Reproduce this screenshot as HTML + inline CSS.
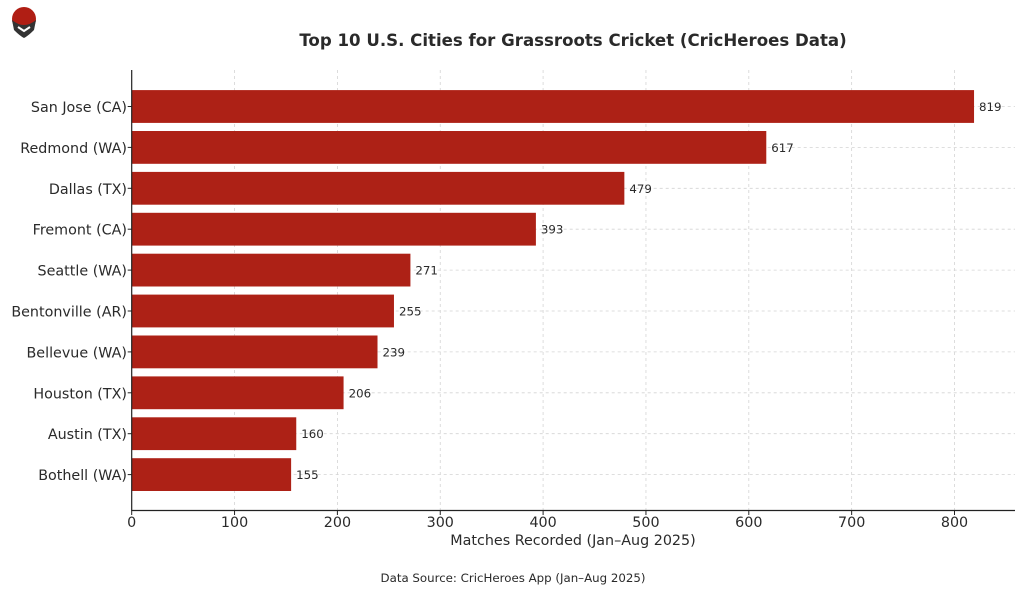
<!DOCTYPE html>
<html><head><meta charset="utf-8"><style>
body{margin:0;background:#fff;width:1024px;height:594px;overflow:hidden}
svg text{font-family:"DejaVu Sans","Liberation Sans",sans-serif;fill:#2a2a2a}
</style></head><body>
<svg width="1024" height="594" xmlns="http://www.w3.org/2000/svg">
<g>
<circle cx="24" cy="19" r="12" fill="#b01e14"/>
<path d="M12 20 Q24 30 36 20 L34 30 Q28 36 24 38 Q20 36 14 30 Z" fill="#333"/>
<path d="M18 27 L24 31 L30 27" stroke="#fff" stroke-width="2" fill="none"/>
</g>
<text x="573" y="46" text-anchor="middle" font-size="16.6" font-weight="bold">Top 10 U.S. Cities for Grassroots Cricket (CricHeroes Data)</text>
<g id="grid" stroke="#d4d4d4" stroke-dasharray="3,3" stroke-width="0.8">
</g>
<script>
var s=1.0285,x0=131.7,g=document.getElementById('grid'),ns='http://www.w3.org/2000/svg';
var data=[["San Jose (CA)",819],["Redmond (WA)",617],["Dallas (TX)",479],["Fremont (CA)",393],["Seattle (WA)",271],["Bentonville (AR)",255],["Bellevue (WA)",239],["Houston (TX)",206],["Austin (TX)",160],["Bothell (WA)",155]];
var svg=document.querySelector('svg');
function el(t,a,p){var e=document.createElementNS(ns,t);for(var k in a)e.setAttribute(k,a[k]);(p||svg).appendChild(e);return e}
for(var v=100;v<=800;v+=100){var x=x0+v*s;el('line',{x1:x,x2:x,y1:70,y2:510},g);}
data.forEach(function(d,i){var cy=106.5+i*40.9;el('line',{x1:x0,x2:1015,y1:cy,y2:cy},g);});
data.forEach(function(d,i){var cy=106.5+i*40.9;
el('rect',{x:x0,y:cy-16.4,width:d[1]*s,height:32.8,fill:'#ad2116'});
var t=el('text',{x:x0+d[1]*s+5,y:cy+4.5,'font-size':'11.8'});t.textContent=d[1];
var l=el('text',{x:127,y:cy+5.5,'font-size':'14.3','text-anchor':'end'});l.textContent=d[0];
el('line',{x1:x0-4,x2:x0,y1:cy,y2:cy,stroke:'#222'});
});
for(var v=0;v<=800;v+=100){var x=x0+v*s;el('line',{x1:x,x2:x,y1:510.5,y2:515,stroke:'#222'});var t=el('text',{x:x,y:527,'font-size':'14.3','text-anchor':'middle'});t.textContent=v;}
el('line',{x1:x0,x2:x0,y1:70,y2:511,stroke:'#222','stroke-width':1.2});
el('line',{x1:x0,x2:1015,y1:510.5,y2:510.5,stroke:'#222','stroke-width':1.2});
</script>
<text x="573" y="545" text-anchor="middle" font-size="14.3">Matches Recorded (Jan–Aug 2025)</text>
<text x="513" y="582" text-anchor="middle" font-size="11.8">Data Source: CricHeroes App (Jan–Aug 2025)</text>
</svg>
</body></html>
